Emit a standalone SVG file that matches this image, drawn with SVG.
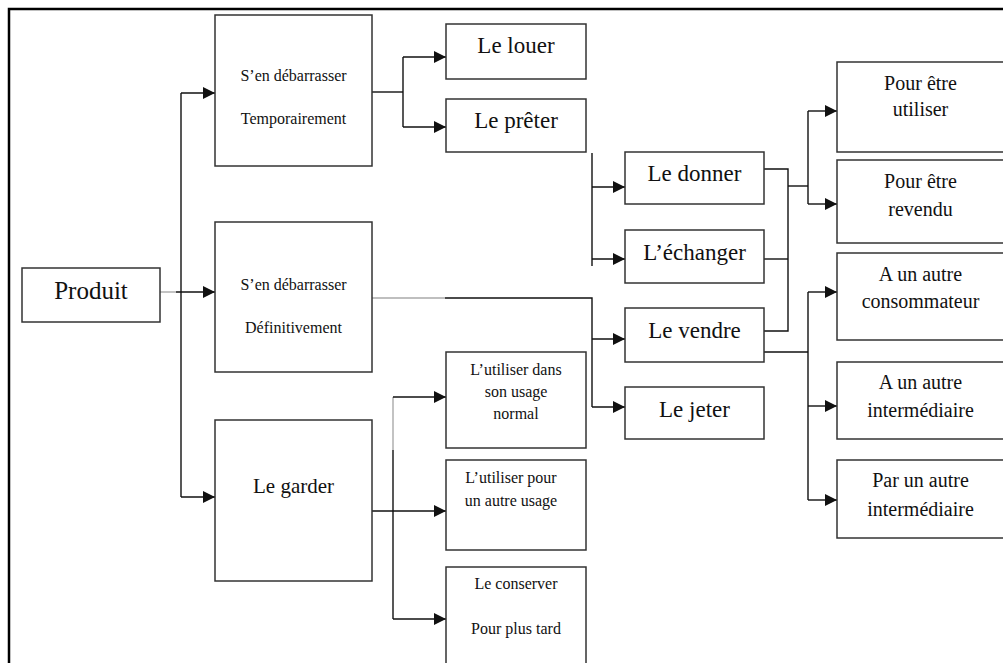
<svg xmlns="http://www.w3.org/2000/svg" width="1003" height="663" viewBox="0 0 1003 663">
<style>
.box{fill:#fff;stroke:#333;stroke-width:1.5}
.ln{fill:none;stroke:#111;stroke-width:1.4}
.gr{fill:none;stroke:#aaa;stroke-width:1.4}
.ar{fill:none;stroke:#111;stroke-width:1.4;marker-end:url(#ah)}
text{font-family:"Liberation Serif","Times New Roman",serif;fill:#111;text-anchor:middle}
.s16{font-size:16px}
.s20{font-size:20px}
.s21{font-size:21px}
.s23{font-size:23px}
.s25{font-size:25px}
</style>
<defs>
<marker id="ah" markerUnits="userSpaceOnUse" markerWidth="14" markerHeight="14" refX="12" refY="6" orient="auto">
<path d="M0,0 L12,6 L0,12 Z" fill="#111"/>
</marker>
</defs>
<rect width="1003" height="663" fill="#fff"/>
<g id="frame">
<path d="M9,663 V9 H1003" fill="none" stroke="#000" stroke-width="2.5"/>
</g>
<g id="connectors">
<path class="gr" d="M160,292 H176"/>
<path class="ar" d="M176,292 H215"/>
<path class="ln" d="M181,93 V497"/>
<path class="ar" d="M181,93 H215"/>
<path class="ar" d="M181,497 H215"/>
<path class="ln" d="M372,92 H403"/>
<path class="ln" d="M403,57 V127"/>
<path class="ar" d="M403,57 H446"/>
<path class="ar" d="M403,127 H446"/>
<path class="gr" d="M372,298 H445"/>
<path class="ln" d="M445,298 H592 V407"/>
<path class="ar" d="M592,339 H625"/>
<path class="ar" d="M592,407 H625"/>
<path class="ln" d="M592,153 V266"/>
<path class="ar" d="M592,187 H625"/>
<path class="ar" d="M592,259 H625"/>
<path class="ar" d="M372,511 H446"/>
<path class="gr" d="M393,397 V450"/>
<path class="ln" d="M393,450 V619"/>
<path class="ar" d="M393,397 H446"/>
<path class="ar" d="M393,619 H446"/>
<path class="ln" d="M764,169 H788 V331 H764"/>
<path class="ln" d="M764,259 H788"/>
<path class="ln" d="M788,186 H808"/>
<path class="ln" d="M808,111 V204"/>
<path class="ar" d="M808,111 H837"/>
<path class="ar" d="M808,204 H837"/>
<path class="ln" d="M764,352 H808"/>
<path class="ln" d="M808,292 V500"/>
<path class="ar" d="M808,292 H837"/>
<path class="ar" d="M808,406 H837"/>
<path class="ar" d="M808,500 H837"/>
</g>
<g id="produit">
<rect class="box" x="22" y="268" width="138" height="54"/>
<text class="s25" x="91" y="299">Produit</text>
</g>
<g id="temporairement">
<rect class="box" x="215" y="15" width="157" height="151"/>
<text class="s16" x="293.5" y="81">S’en débarrasser</text>
<text class="s16" x="293.5" y="124">Temporairement</text>
</g>
<g id="definitivement">
<rect class="box" x="215" y="222" width="157" height="150"/>
<text class="s16" x="293.5" y="290">S’en débarrasser</text>
<text class="s16" x="293.5" y="333">Définitivement</text>
</g>
<g id="garder">
<rect class="box" x="215" y="420" width="157" height="161"/>
<text class="s21" x="293.5" y="493">Le garder</text>
</g>
<g id="louer">
<rect class="box" x="446" y="24" width="140" height="55"/>
<text class="s23" x="516" y="53">Le louer</text>
</g>
<g id="preter">
<rect class="box" x="446" y="99" width="140" height="53"/>
<text class="s23" x="516" y="128">Le prêter</text>
</g>
<g id="usage-normal">
<rect class="box" x="446" y="352" width="140" height="96"/>
<text class="s16" x="516" y="375">L’utiliser dans</text>
<text class="s16" x="516" y="397">son usage</text>
<text class="s16" x="516" y="419">normal</text>
</g>
<g id="autre-usage">
<rect class="box" x="446" y="460" width="140" height="90"/>
<text class="s16" x="511" y="483">L’utiliser pour</text>
<text class="s16" x="511" y="505.5">un autre usage</text>
</g>
<g id="conserver">
<rect class="box" x="446" y="567" width="140" height="110"/>
<text class="s16" x="516" y="589">Le conserver</text>
<text class="s16" x="516" y="634">Pour plus tard</text>
</g>
<g id="donner">
<rect class="box" x="625" y="152" width="139" height="52"/>
<text class="s23" x="694.5" y="181">Le donner</text>
</g>
<g id="echanger">
<rect class="box" x="625" y="230" width="139" height="53"/>
<text class="s23" x="694.5" y="260">L’échanger</text>
</g>
<g id="vendre">
<rect class="box" x="625" y="308" width="139" height="54"/>
<text class="s23" x="694.5" y="338">Le vendre</text>
</g>
<g id="jeter">
<rect class="box" x="625" y="387" width="139" height="52"/>
<text class="s23" x="694.5" y="416.5">Le jeter</text>
</g>
<g id="utiliser">
<rect class="box" x="837" y="62" width="170" height="90"/>
<text class="s20" x="920.5" y="90">Pour être</text>
<text class="s20" x="920.5" y="116">utiliser</text>
</g>
<g id="revendu">
<rect class="box" x="837" y="160" width="170" height="83"/>
<text class="s20" x="920.5" y="188">Pour être</text>
<text class="s20" x="920.5" y="215.5">revendu</text>
</g>
<g id="consommateur">
<rect class="box" x="837" y="253" width="170" height="87"/>
<text class="s20" x="920.5" y="280.5">A un autre</text>
<text class="s20" x="920.5" y="308">consommateur</text>
</g>
<g id="intermediaire">
<rect class="box" x="837" y="362" width="170" height="77"/>
<text class="s20" x="920.5" y="389">A un autre</text>
<text class="s20" x="920.5" y="416.5">intermédiaire</text>
</g>
<g id="par-intermediaire">
<rect class="box" x="837" y="460" width="170" height="78"/>
<text class="s20" x="920.5" y="487">Par un autre</text>
<text class="s20" x="920.5" y="516">intermédiaire</text>
</g>
</svg>
